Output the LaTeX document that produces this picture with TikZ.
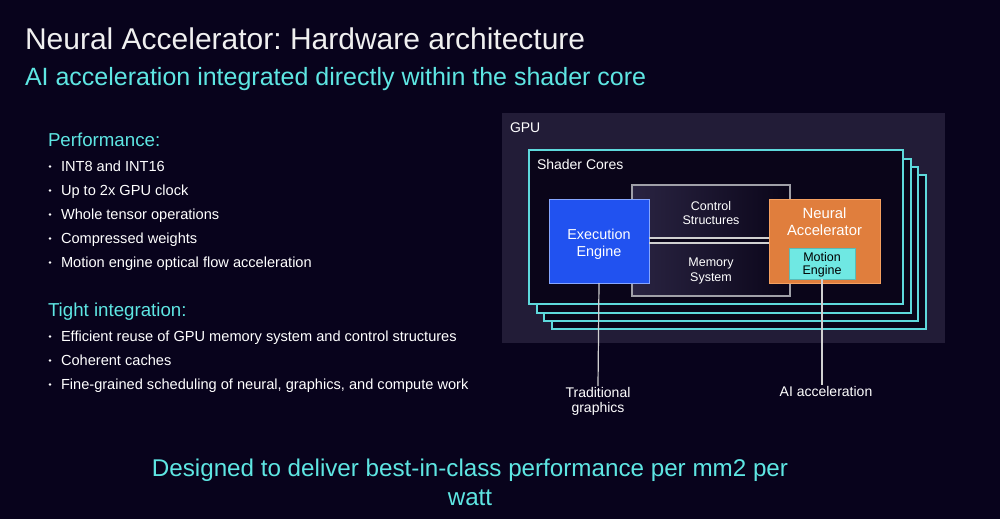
\documentclass[tikz,border=0pt]{standalone}
\usepackage{fontspec}
\setmainfont{Liberation Sans}
\usetikzlibrary{calc}
\frenchspacing
\definecolor{bgc}{HTML}{08031C}
\definecolor{cyantxt}{HTML}{5EE6E3}
\definecolor{gpufill}{HTML}{221C37}
\definecolor{corefill}{HTML}{0A0519}
\definecolor{corestroke}{HTML}{5ED9DC}
\definecolor{execfill}{HTML}{2152F0}
\definecolor{execstroke}{HTML}{86A6FF}
\definecolor{nafill}{HTML}{E07E3D}
\definecolor{nastroke}{HTML}{F5A060}
\definecolor{mefill}{HTML}{6FE8E3}
\definecolor{boxstroke}{HTML}{A0A0A8}
\definecolor{linec}{HTML}{D0D0D0}
\definecolor{subfill}{HTML}{2A2442}
\begin{document}
\begin{tikzpicture}[x=1pt,y=-1pt,
  txt/.style={inner sep=0pt, outer sep=0pt, text=white},
  bul/.style={txt, anchor=base west, font=\fontsize{14.6}{16}\selectfont},
  head/.style={txt, anchor=base west, text=cyantxt, font=\fontsize{18.7}{20}\selectfont},
  dot/.style={circle, fill=white, inner sep=0pt, minimum size=2.6pt},
  corebox/.style={draw=corestroke, line width=1.3pt, fill=corefill, anchor=north west, inner sep=0pt, outer sep=0pt},
  subbox/.style={draw=boxstroke, line width=1.2pt, left color=subfill, right color=corefill, anchor=north west, inner sep=0pt, outer sep=0pt, minimum width=158pt, minimum height=53pt, text=white, align=center, font=\fontsize{12.5}{14.5}\selectfont},
  conn/.style={draw=linec, line width=1.2pt},
]
\useasboundingbox (0,0) rectangle (1000,519);
\fill[bgc] (0,0) rectangle (1000,519);

% titles
\node[txt, anchor=base west, text=white!94!black, font=\fontsize{30}{32}\selectfont] (title) at (25,50) {Neural Accelerator: Hardware architecture};
\node[txt, anchor=base west, text=cyantxt, font=\fontsize{25}{27}\selectfont] (subtitle) at (25,85) {AI acceleration integrated directly within the shader core};

% left list
\node[head] (perf) at (48,146) {Performance:};
\foreach \y/\t/\n in {171/INT8 and INT16/p1, 195/Up to 2x GPU clock/p2, 219/Whole tensor operations/p3, 243/Compressed weights/p4, 267/Motion engine optical flow acceleration/p5}{
  \node[dot] (d\n) at (50,\y-4.5) {};
  \node[bul] (\n) at (61,\y) {\t};
}
\node[head] (tight) at (48,316) {Tight integration:};
\foreach \y/\t/\n in {341/Efficient reuse of GPU memory system and control structures/t1, 365/Coherent caches/t2, 389/{Fine-grained scheduling of neural, graphics, and compute work}/t3}{
  \node[dot] (d\n) at (50,\y-4.5) {};
  \node[bul] (\n) at (61,\y) {\t};
}

% GPU box
\node[fill=gpufill, anchor=north west, inner sep=0pt, minimum width=443pt, minimum height=230pt] (gpu) at (502,113) {};
\node[txt, anchor=base west, font=\fontsize{14}{16}\selectfont] (gpulbl) at (510,132) {GPU};

% shader core stack
\node[corebox, minimum width=374pt, minimum height=154pt] (sc4) at (552,175) {};
\node[corebox, minimum width=374pt, minimum height=154pt] (sc3) at (544,167) {};
\node[corebox, minimum width=374pt, minimum height=154pt] (sc2) at (537,159) {};
\node[corebox, minimum width=374pt, minimum height=154pt] (sc1) at (529,150) {};
\node[txt, anchor=base west, font=\fontsize{14}{16}\selectfont] (sclbl) at (537,169) {Shader Cores};

% control / memory
\node[subbox] (ctrl) at (632,185) {\rule{0pt}{12pt}Control\\Structures};
\node[subbox] (mem) at (632,243) {\rule{0pt}{12pt}Memory\\System};

% engines
\node[draw=execstroke, fill=execfill, line width=1pt, anchor=north west, inner sep=0pt, outer sep=0pt, minimum width=100pt, minimum height=84pt, text=white, align=center, font=\fontsize{14.4}{17}\selectfont] (exec) at (549,199) {\rule{0pt}{16pt}Execution\\Engine};
\node[draw=nastroke, fill=nafill, line width=1pt, anchor=north west, inner sep=0pt, outer sep=0pt, minimum width=111pt, minimum height=84pt] (na) at (769,199) {};
\node[txt, anchor=north, align=center, font=\fontsize{14.8}{17}\selectfont] (nalbl) at ($(na.north)+(0,9)$) {Neural\\Accelerator};
\node[draw=mefill!80!black, fill=mefill, line width=0.8pt, anchor=north west, inner sep=0pt, outer sep=0pt, minimum width=66pt, minimum height=31pt, text=black, align=center, font=\fontsize{12.5}{13.5}\selectfont] (me) at (789,248) {\rule{0pt}{12pt}Motion\\Engine};

% connectors between engines
\draw[conn] (exec.east |- ctrl.south) -- (na.west |- ctrl.south);
\draw[conn] (exec.east |- mem.north) -- (na.west |- mem.north);

% labels below
\node[txt, anchor=north, align=center, font=\fontsize{14}{15.5}\selectfont, inner sep=1pt] (trad) at (598,386) {Traditional\\graphics};
\node[txt, anchor=north, font=\fontsize{14}{15.5}\selectfont, inner sep=1pt] (ai) at (826,385) {AI acceleration};
\draw[conn] (exec.south) -- (trad.north);
\draw[conn] (me.south) -- (me.south |- ai.north);

% bottom statement
\node[txt, anchor=base, align=center, text=cyantxt, font=\fontsize{24.2}{29}\selectfont] (bottom) at (470,505) {Designed to deliver best-in-class performance per mm2 per\\watt};
\end{tikzpicture}
\end{document}
